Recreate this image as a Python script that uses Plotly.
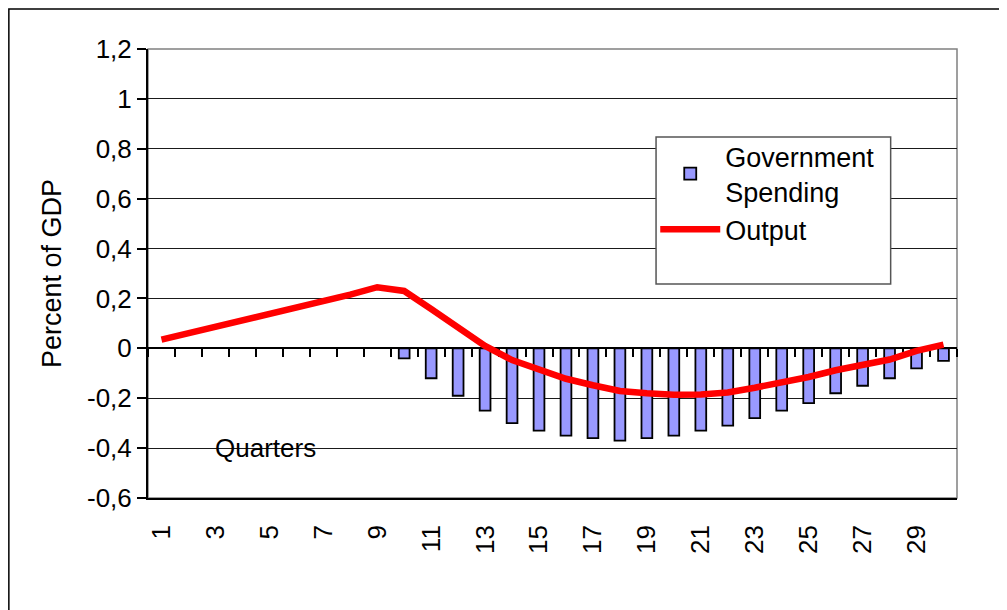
import plotly.graph_objects as go

quarters = list(range(1, 31))
gov_spending = [None, None, None, None, None, None, None, None, None,
                -0.04, -0.12, -0.19, -0.25, -0.30, -0.33, -0.35, -0.36, -0.37, -0.36,
                -0.35, -0.33, -0.31, -0.28, -0.25, -0.22, -0.18, -0.15, -0.12, -0.08, -0.05]
output = [0.035, 0.06, 0.085, 0.11, 0.135, 0.16, 0.185, 0.215, 0.245, 0.23,
          0.158, 0.086, 0.01, -0.047, -0.086, -0.122, -0.148, -0.171, -0.18, -0.186,
          -0.185, -0.177, -0.158, -0.137, -0.115, -0.088, -0.067, -0.045, -0.01, 0.015]
x_tick_vals = [1, 3, 5, 7, 9, 11, 13, 15, 17, 19, 21, 23, 25, 27, 29]
x_tick_text = ["1", "3", "5", "7", "9", "11", "13", "15", "17", "19", "21", "23", "25", "27", "29"]
y_tick_vals = [-0.6, -0.4, -0.2, 0, 0.2, 0.4, 0.6, 0.8, 1.0, 1.2]
y_tick_text = ["-0,6", "-0,4", "-0,2", "0", "0,2", "0,4", "0,6", "0,8", "1", "1,2"]

FONT = "Liberation Sans, Arial, sans-serif"

fig = go.Figure()
fig.add_trace(go.Bar(
    x=quarters, y=gov_spending, name="Government<br>Spending",
    width=0.4, marker=dict(color="#9999FF", line=dict(color="#000000", width=1.8)),
    xaxis="x", yaxis="y",
))
fig.add_trace(go.Scatter(
    x=quarters, y=output, name="Output", mode="lines",
    line=dict(color="#FF0000", width=6.5),
    xaxis="x2", yaxis="y",
))

fig.update_layout(
    template="none",
    width=999, height=602,
    margin=dict(l=140, r=50, t=41, b=112),
    paper_bgcolor="white", plot_bgcolor="white",
    font=dict(family=FONT, size=26, color="black"),
    showlegend=True,
    legend=dict(x=0.627, y=0.815, xanchor="left", yanchor="top",
                bgcolor="rgba(0,0,0,0)", borderwidth=0,
                font=dict(family=FONT, size=27, color="black"),
                itemwidth=60, tracegroupgap=0),
    xaxis=dict(range=[0.5, 30.5], tickmode="array", tickvals=x_tick_vals, ticktext=x_tick_text,
               tickangle=-90, ticks="", showgrid=False, zeroline=False,
               showline=True, linecolor="black", linewidth=1.5, mirror=False,
               ticklabelstandoff=15, tickfont=dict(family=FONT, size=26, color="black")),
    xaxis2=dict(range=[0.5, 30.5], overlaying="x", anchor="free", position=1/3,
                tickmode="linear", tick0=0.5, dtick=1, ticks="outside", ticklen=8,
                tickcolor="black", tickwidth=1.5, showticklabels=False,
                showgrid=False, zeroline=False, showline=True, linecolor="black", linewidth=1.5,
                layer="below traces"),
    yaxis=dict(range=[-0.6, 1.2], tickmode="array", tickvals=y_tick_vals, ticktext=y_tick_text,
               ticks="outside", ticklen=9, tickwidth=1.5, tickcolor="black",
               showgrid=True, gridcolor="#1a1a1a", gridwidth=1, zeroline=False,
               showline=True, linecolor="black", linewidth=2,
               tickfont=dict(family=FONT, size=26, color="black"),
               title=dict(text="Percent of GDP", standoff=18,
                          font=dict(family=FONT, size=27, color="black"))),
    shapes=[
        dict(type="rect", xref="paper", yref="paper", x0=0, x1=1, y0=0, y1=1,
             line=dict(color="#808080", width=1.5), fillcolor="rgba(0,0,0,0)", layer="below"),
        dict(type="rect", xref="paper", yref="paper", x0=0.628, x1=0.918, y0=0.4766, y1=0.804,
             line=dict(color="#555555", width=1.5), fillcolor="white", layer="above"),
        dict(type="rect", xref="paper", yref="paper", x0=-0.172, x1=1.08, y0=-0.3, y1=1.089,
             line=dict(color="black", width=1.5), fillcolor="rgba(0,0,0,0)", layer="below"),
    ],
    annotations=[
        dict(text="Quarters", x=4.84, y=-0.4, xref="x", yref="y", showarrow=False,
             font=dict(family=FONT, size=26, color="black"), xanchor="center", yanchor="middle"),
    ],
)

fig.write_html("out.html")
